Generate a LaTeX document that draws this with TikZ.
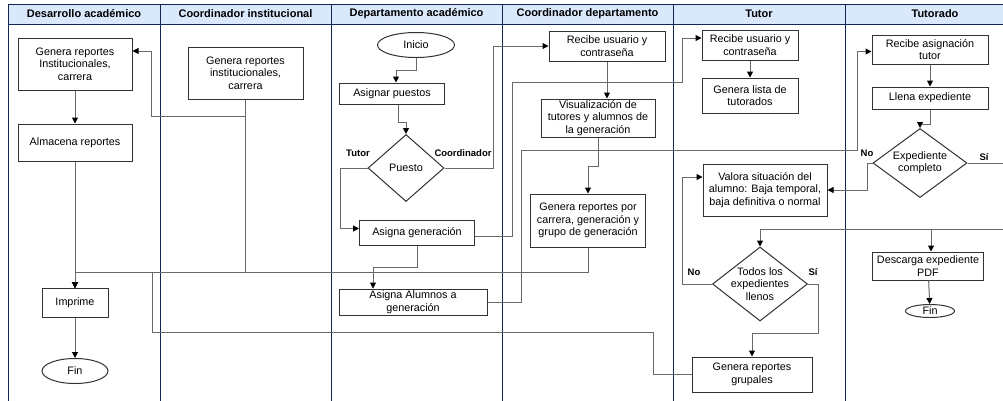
\documentclass[tikz,border=0pt]{standalone}
\usepackage{fontspec}
\setmainfont{Liberation Sans}
\usetikzlibrary{%
	arrows.meta,%
	positioning,%
	shapes.geometric,%
}
\definecolor{clane}{RGB}{20, 38, 86}
\definecolor{cheadlight}{RGB}{218, 232, 252}
\definecolor{cline}{RGB}{105, 105, 105}
\definecolor{cbox}{RGB}{50, 50, 50}
\newcommand{\boxfont}{\fontsize{10.8}{12.4}\selectfont}
\tikzset{
	>={Triangle[length=6pt,width=6pt,color=black]},%
	nodes={align=center},%
	sz/.style 2 args={%
			minimum width=#1pt,%
			minimum height=#2pt},%
	proc/.style={%
			draw=cbox,%
			rectangle,%
			line width=1pt,%
			fill=white,%
			inner sep=1pt,%
			font=\boxfont},%
	term/.style={%
			draw=cbox,%
			ellipse,%
			line width=1pt,%
			fill=white,%
			inner sep=0pt,%
			font=\boxfont},%
	decision/.style={%
			draw=cbox,%
			diamond,%
			line width=1pt,%
			fill=white,%
			inner sep=0pt,%
			font=\boxfont},%
	conn/.style={%
			draw=cline,%
			line width=1pt,%
			->},%
	lanerule/.style={%
			draw=clane,%
			line width=1pt},%
	lanehead/.style={%
			font=\fontsize{11}{13}\selectfont\bfseries},%
	branchlabel/.style={%
			inner sep=0pt,%
			font=\fontsize{9.5}{11}\selectfont\bfseries},%
}

\begin{document}
\begin{tikzpicture}[x=1pt, y=-1pt]
	\useasboundingbox (0,0) rectangle (1003,400);
	\clip (0,0) rectangle (1003,400);

	% swimlanes
	\fill[cheadlight] (8,4) rectangle (1030,24);
	\draw[lanerule] (8,410) -- (8,4) -- (1030,4);
	\draw[lanerule] (8,24) -- (1030,24);
	\foreach \xa/\xb/\lanename in {8/160/Desarrollo académico, 160/331/Coordinador institucional, 331/502/Departamento académico, 502/673/Coordinador departamento, 673/845/Tutor, 845/1025/Tutorado}{
		\node[lanehead] (head\xa) at ({(\xa+\xb)/2},14) {\lanename};
		\draw[lanerule] (\xb,4) -- (\xb,410);
	}

	% Desarrollo academico
	\node[proc, sz={114}{52}] (dagen) at (75,64) {Genera reportes\\Institucionales,\\carrera};
	\node[proc, sz={114}{37}, below=33pt of dagen] (daalm) {Almacena reportes};
	\node[proc, sz={66}{29}] (daimp) at (75,303) {Imprime};
	\node[term, sz={66}{25}, below=40pt of daimp] (dafin) {Fin};

	% Coordinador institucional
	\node[proc, sz={115}{52}] (cigen) at (245.5,73) {Genera reportes\\institucionales,\\carrera};

	% Departamento academico
	\node[term, sz={77}{25}] (inicio) at (416,45) {Inicio};
	\node[proc, sz={105}{21}] (dapue) at (392,93.5) {Asignar puestos};
	\node[decision, sz={76}{67}] (puesto) at (406,168) {Puesto};
	\node[proc, sz={115}{25}] (dagenr) at (417,232.5) {Asigna generación};
	\node[proc, sz={148}{26}] (daalu) at (413,302) {Asigna Alumnos a\\generación};

	% Coordinador departamento
	\node[proc, sz={116}{30}] (cdrec) at (607,46) {Recibe usuario y\\contraseña};
	\node[proc, sz={114}{38}] (cdvis) at (598,118) {Visualización de\\tutores y alumnos de\\la generación};
	\node[proc, sz={115}{53}] (cdgen) at (588,220.5) {Genera reportes por\\carrera, generación y\\grupo de generación};

	% Tutor
	\node[proc, sz={96}{30}] (turec) at (750,45) {Recibe usuario y\\contraseña};
	\node[proc, sz={96}{35}, below=17pt of turec] (tulis) {Genera lista de\\tutorados};
	\node[proc, sz={124}{52}] (tuval) at (765,190) {Valora situación del\\alumno: Baja temporal,\\baja definitiva o normal};
	\node[decision, sz={95}{74}, inner sep=-2pt, aspect=1.28] (tutod) at (760,284) {Todos los\\expedientes\\llenos};
	\node[proc, sz={120}{35}] (tugru) at (752,374.5) {Genera reportes\\grupales};

	% Tutorado
	\node[proc, sz={116}{29}] (torec) at (930,49.5) {Recibe asignación\\tutor};
	\node[proc, sz={116}{22}, below=22pt of torec] (tolle) {Llena expediente};
	\node[decision, sz={94}{69}, aspect=1.36] (toexp) at (920,163) {Expediente\\completo};
	\node[proc, sz={111}{28}] (todes) at (928,266) {Descarga expediente\\PDF};
	\node[term, sz={49}{13}] (tofin) at (930,311) {Fin};

	% branch labels
	\node[branchlabel] (ltutor) at (358,153) {Tutor};
	\node[branchlabel] (lcoord) at (463,153) {Coordinador};
	\node[branchlabel] (lexpno) at (867,153) {No};
	\node[branchlabel] (lexpsi) at (984,157) {Sí};
	\node[branchlabel] (ltodno) at (694,272) {No};
	\node[branchlabel] (ltodsi) at (813,272) {Sí};

	% flow
	\draw[conn] (dagen) -- (daalm);
	\draw[conn] (daalm) -- (daimp);
	\draw[conn] (daimp) -- (dafin);
	\draw[conn] (cigen.south) -- ++(0,17) -- ++(-94,0) |- ([yshift=13pt]dagen.east);
	\draw[conn] (cigen.south) -- ++(0,173) -| (daimp.north);

	\draw[conn] (inicio.south) -- ++(0,12) -| ([xshift=4pt]dapue.north);
	\draw[conn] ([xshift=6pt]dapue.south) -- ++(0,18) -| (puesto.north);
	\draw[conn] (puesto.west) -- ++(-27,0) |- ([yshift=4pt]dagenr.west);
	\draw[conn] (puesto.east) -- ++(49,0) |- (cdrec.west);
	\draw[conn] ([yshift=-4pt]dagenr.east) -| (512,82) -- (682,82) |- ([yshift=7pt]turec.west);
	\draw[conn] (dagenr.south) -- ++(0,22) -| ([xshift=-40pt]daalu.north);
	\draw[conn] (daalu.east) -| (521,150) -- (857,150) |- ([yshift=-2pt]torec.west);

	\draw[conn] (cdrec.south) -- (cdrec.south |- cdvis.north);
	\draw[conn] (cdvis.south) -- ++(0,29) -| (cdgen.north);
	\draw[conn] (cdgen.south) -- ++(0,25) -| (daimp.north);

	\draw[conn] (turec) -- (tulis);
	\draw[conn] (tutod.west) -- ++(-30,0) |- ([yshift=13pt]tuval.west);
	\draw[conn] (tutod.east) -- ++(10,0) -- ++(0,49) -| (tugru.north);
	\draw[conn] (tugru.west) -- ++(-38,0) |- (152,332) -- (152,272) -| (daimp.north);

	\draw[conn] (torec) -- (tolle);
	\draw[conn] (tolle.south) -- ++(0,15) -| (toexp.north);
	\draw[conn] (toexp.west) -- ++(-5,0) |- (tuval.east);
	\draw[conn] (toexp.east) -- ++(50,0) -- ++(0,66) -| (tutod.north);
	\draw[conn] (toexp.east) -- ++(50,0) -- ++(0,66) -| ([xshift=3pt]todes.north);
	\draw[conn] (todes) -- (tofin);
\end{tikzpicture}
\end{document}
